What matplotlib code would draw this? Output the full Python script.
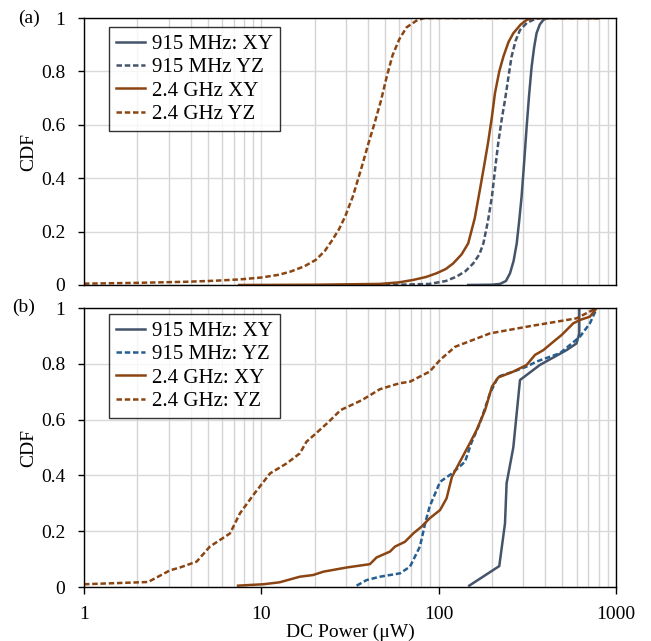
import matplotlib
matplotlib.use('Agg')
import matplotlib.pyplot as plt
from matplotlib.ticker import LogLocator, NullFormatter, FixedLocator

plt.rcParams['font.family'] = ['Liberation Serif', 'DejaVu Serif']
plt.rcParams['font.size'] = 14

# (a) smooth CDFs
a_915_xy_x = [147, 200, 222, 240, 253, 265, 276, 285, 294, 304, 314, 324, 335, 346, 357, 372,
              390, 410, 800]
a_915_xy_y = [0, 0.001, 0.004, 0.015, 0.044, 0.09, 0.156, 0.24, 0.331, 0.46, 0.593, 0.71,
              0.818, 0.89, 0.943, 0.975, 0.993, 1, 1]
a_915_yz_x = [36, 60, 89, 110, 126, 142, 157, 170, 179, 190, 200, 208, 217, 227, 237, 248,
              258, 272, 288, 315, 342, 373, 800]
a_915_yz_y = [0, 0.001, 0.004, 0.015, 0.031, 0.052, 0.081, 0.115, 0.156, 0.24, 0.331, 0.43,
              0.531, 0.62, 0.693, 0.78, 0.855, 0.915, 0.955, 0.982, 0.993, 1, 1]
a_24_xy_x = [7.5, 20, 46.7, 60, 72, 85, 97.5, 110, 121, 135, 147, 160, 171, 180, 190, 200,
             208, 220, 232, 248, 264, 290, 314, 342, 800]
a_24_xy_y = [0, 0.001, 0.004, 0.01, 0.019, 0.03, 0.044, 0.06, 0.081, 0.115, 0.156, 0.25,
             0.356, 0.44, 0.531, 0.63, 0.718, 0.8, 0.855, 0.91, 0.943, 0.975, 0.993, 1, 1]
a_24_yz_x = [1, 2, 3.75, 5.5, 7.6, 10, 12.5, 14.6, 17.5, 20.3, 22.8, 25.2, 27.5, 29.7, 32.8,
             36.9, 40, 43.5, 47.3, 51, 55, 60, 66, 75, 83, 800]
a_24_yz_y = [0.005, 0.008, 0.012, 0.016, 0.021, 0.028, 0.038, 0.05, 0.07, 0.094, 0.127, 0.169,
             0.21, 0.256, 0.33, 0.443, 0.525, 0.605, 0.69, 0.78, 0.86, 0.92, 0.965, 0.99, 1, 1]

# (b) measured CDFs
b_915_xy_x = [149, 220, 237, 242, 264, 288, 373, 527, 600, 622, 622]
b_915_xy_y = [0.005, 0.075, 0.228, 0.372, 0.5, 0.742, 0.796, 0.849, 0.873, 0.909, 1.0]
b_915_yz_x = [34.5, 39.3, 46.7, 60.6, 69, 78.5, 84, 89, 102, 119, 141, 153, 171, 195, 217,
              264, 314, 357, 484, 627, 714, 773]
b_915_yz_y = [0.005, 0.025, 0.037, 0.049, 0.073, 0.145, 0.228, 0.288, 0.377, 0.407, 0.449,
              0.516, 0.587, 0.694, 0.754, 0.772, 0.79, 0.808, 0.838, 0.897, 0.945, 0.993]
b_24_xy_x = [7.4, 10.3, 12.7, 16.5, 19.6, 22.4, 30.3, 41, 44.7, 53.2, 56.8, 64.6, 72, 80, 89,
             102, 111, 119, 132, 150, 164, 183, 200, 217, 264, 314, 350, 390, 444, 494, 575,
             627, 714, 780]
b_24_xy_y = [0.005, 0.01, 0.017, 0.037, 0.043, 0.055, 0.07, 0.082, 0.106, 0.127, 0.145, 0.162,
             0.192, 0.216, 0.246, 0.276, 0.318, 0.395, 0.449, 0.515, 0.563, 0.634, 0.718,
             0.751, 0.772, 0.796, 0.832, 0.849, 0.879, 0.903, 0.945, 0.957, 0.969, 1.0]
b_24_yz_x = [1, 2.3, 2.6, 3.06, 3.48, 4.32, 5.13, 6.66, 7.58, 9.02, 11.2, 13.9, 16.5, 18,
             20.3, 24, 28, 37, 46.7, 60, 69, 89, 102, 124, 195, 328, 464, 600, 780]
b_24_yz_y = [0.01, 0.018, 0.036, 0.06, 0.07, 0.091, 0.145, 0.192, 0.264, 0.33, 0.407, 0.443,
             0.479, 0.521, 0.55, 0.592, 0.634, 0.67, 0.709, 0.73, 0.736, 0.772, 0.814, 0.861,
             0.909, 0.935, 0.951, 0.963, 1.0]

blue = '#44546A'
blue2 = '#255E91'
orange = '#8B4513'
dash = (2.2, 1.1)

fig = plt.figure(figsize=(6.51, 6.41), dpi=100)
ax1 = fig.add_axes([0.129, 0.5554, 0.817, 0.4165])
ax2 = fig.add_axes([0.129, 0.0842, 0.817, 0.4353])


def style(ax):
    ax.set_xscale('log')
    ax.set_xlim(1, 1000)
    ax.set_ylim(0, 1)
    ax.set_yticks([0, 0.2, 0.4, 0.6, 0.8, 1])
    ax.set_yticklabels(['0', '0.2', '0.4', '0.6', '0.8', '1'])
    ax.xaxis.set_minor_locator(LogLocator(base=10, subs=range(2, 10)))
    ax.xaxis.set_minor_formatter(NullFormatter())
    ax.grid(True, which='both', axis='x', color='#D4D4D4', lw=1)
    ax.grid(True, which='major', axis='y', color='#D9D9D9', lw=1)
    ax.set_axisbelow(True)
    ax.tick_params(axis='x', which='minor', length=0)
    ax.tick_params(axis='y', length=4.5, width=1, pad=9)
    ax.set_ylabel('CDF', labelpad=0)
    ax.yaxis.set_label_coords(-0.088, 0.5)
    for s in ax.spines.values():
        s.set_color('black')
        s.set_linewidth(1)


def legend(ax, top):
    lg = ax.legend(loc='upper left', bbox_to_anchor=(0.047, top), fancybox=False,
                   edgecolor='black', handlelength=1.4, handletextpad=0.3,
                   borderpad=0.35, labelspacing=0.18, borderaxespad=0, fontsize=15)
    lg.get_frame().set_linewidth(1)


style(ax1)
ax1.plot(a_915_xy_x, a_915_xy_y, color=blue, lw=1.8, label='915 MHz: XY')
ax1.plot(a_915_yz_x, a_915_yz_y, color=blue, lw=1.8, dashes=dash, label='915 MHz YZ')
ax1.plot(a_24_xy_x, a_24_xy_y, color=orange, lw=1.8, label='2.4 GHz XY')
ax1.plot(a_24_yz_x, a_24_yz_y, color=orange, lw=1.8, dashes=dash, label='2.4 GHz YZ')
ax1.tick_params(axis='x', which='major', length=0, labelbottom=False)
legend(ax1, 0.966)

style(ax2)
ax2.plot(b_915_xy_x, b_915_xy_y, color=blue, lw=1.8, label='915 MHz: XY')
ax2.plot(b_915_yz_x, b_915_yz_y, color=blue2, lw=1.8, dashes=dash, label='915 MHz: YZ')
ax2.plot(b_24_xy_x, b_24_xy_y, color=orange, lw=1.8, label='2.4 GHz: XY')
ax2.plot(b_24_yz_x, b_24_yz_y, color=orange, lw=1.8, dashes=dash, label='2.4 GHz: YZ')
ax2.xaxis.set_major_locator(FixedLocator([1, 10, 100, 1000]))
ax2.set_xticklabels(['1', '10', '100', '1000'])
ax2.tick_params(axis='x', which='major', length=5, width=1, pad=9)
ax2.set_xlabel('DC Power (μW)', labelpad=0)
legend(ax2, 0.978)

fig.text(0.028, 0.971, '(a)', ha='left', va='center', fontsize=14)
fig.text(0.018, 0.521, '(b)', ha='left', va='center', fontsize=14)

fig.savefig('out.png', dpi=100)
